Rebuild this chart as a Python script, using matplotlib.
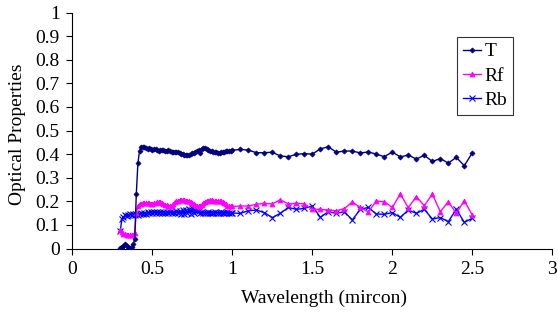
import matplotlib
matplotlib.use("Agg")
import matplotlib.pyplot as plt

plt.rcParams['font.family'] = ['Liberation Serif', 'DejaVu Serif']

wl_dense = [0.30, 0.31, 0.32, 0.33, 0.34, 0.35, 0.36, 0.37, 0.38, 0.39,
            0.40, 0.41, 0.42, 0.43, 0.44, 0.45, 0.46, 0.47, 0.48, 0.49,
            0.50, 0.51, 0.52, 0.53, 0.54, 0.55, 0.56, 0.57, 0.58, 0.59,
            0.60, 0.61, 0.62, 0.63, 0.64, 0.65, 0.66, 0.67, 0.68, 0.69,
            0.70, 0.71, 0.72, 0.73, 0.74, 0.75, 0.76, 0.77, 0.78, 0.79,
            0.80, 0.81, 0.82, 0.83, 0.84, 0.85, 0.86, 0.87, 0.88, 0.89,
            0.90, 0.91, 0.92, 0.93, 0.94, 0.95, 0.96, 0.97, 0.98, 0.99,
            1.00]
wl_sparse = [1.05, 1.10, 1.15, 1.20, 1.25, 1.30, 1.35, 1.40, 1.45, 1.50,
             1.55, 1.60, 1.65, 1.70, 1.75, 1.80, 1.85, 1.90, 1.95, 2.00,
             2.05, 2.10, 2.15, 2.20, 2.25, 2.30, 2.35, 2.40, 2.45, 2.50]

T_dense = [0.003, 0.005, 0.012, 0.017, 0.010, 0.006, 0.003, 0.006, 0.017, 0.040,
           0.230, 0.362, 0.412, 0.428, 0.432, 0.428, 0.425, 0.423, 0.425, 0.422,
           0.418, 0.420, 0.423, 0.419, 0.415, 0.417, 0.419, 0.416, 0.412, 0.414,
           0.416, 0.413, 0.410, 0.408, 0.409, 0.410, 0.408, 0.404, 0.401, 0.399,
           0.398, 0.397, 0.397, 0.398, 0.400, 0.403, 0.406, 0.410, 0.414, 0.418,
           0.404, 0.420, 0.426, 0.424, 0.420, 0.418, 0.415, 0.412, 0.410, 0.408,
           0.407, 0.406, 0.406, 0.407, 0.409, 0.411, 0.412, 0.413, 0.415, 0.414,
           0.416]
T_sparse = [0.420, 0.417, 0.406, 0.406, 0.408, 0.392, 0.389, 0.399, 0.402, 0.400,
            0.422, 0.431, 0.408, 0.413, 0.413, 0.405, 0.409, 0.400, 0.389, 0.409,
            0.388, 0.396, 0.379, 0.395, 0.369, 0.381, 0.362, 0.386, 0.351, 0.405]

Rf_dense = [0.080, 0.068, 0.062, 0.060, 0.058, 0.057, 0.056, 0.056, 0.058, 0.065,
            0.150, 0.182, 0.188, 0.190, 0.192, 0.192, 0.193, 0.192, 0.191, 0.190,
            0.190, 0.191, 0.193, 0.195, 0.196, 0.195, 0.193, 0.190, 0.186, 0.183,
            0.180, 0.179, 0.182, 0.189, 0.196, 0.200, 0.203, 0.205, 0.205, 0.204,
            0.204, 0.203, 0.203, 0.201, 0.198, 0.194, 0.188, 0.183, 0.179, 0.178,
            0.180, 0.186, 0.193, 0.198, 0.201, 0.203, 0.204, 0.204, 0.203, 0.203,
            0.202, 0.202, 0.201, 0.200, 0.198, 0.193, 0.187, 0.182, 0.179, 0.178,
            0.178]
Rf_sparse = [0.180, 0.180, 0.187, 0.191, 0.189, 0.206, 0.189, 0.191, 0.189, 0.166,
             0.166, 0.163, 0.160, 0.169, 0.197, 0.174, 0.155, 0.201, 0.198, 0.174,
             0.231, 0.173, 0.220, 0.181, 0.231, 0.156, 0.198, 0.149, 0.203, 0.142]

Rb_dense = [0.075, 0.125, 0.135, 0.140, 0.138, 0.142, 0.145, 0.140, 0.148, 0.143,
            0.146, 0.142, 0.148, 0.150, 0.146, 0.152, 0.148, 0.153, 0.150, 0.155,
            0.150, 0.154, 0.149, 0.155, 0.152, 0.156, 0.151, 0.155, 0.150, 0.154,
            0.149, 0.155, 0.151, 0.156, 0.152, 0.158, 0.150, 0.160, 0.148, 0.162,
            0.147, 0.165, 0.150, 0.168, 0.148, 0.170, 0.152, 0.165, 0.158, 0.160,
            0.150, 0.153, 0.151, 0.152, 0.150, 0.153, 0.151, 0.152, 0.150, 0.153,
            0.151, 0.152, 0.150, 0.153, 0.151, 0.152, 0.150, 0.153, 0.151, 0.152,
            0.150]
Rb_sparse = [0.149, 0.160, 0.163, 0.152, 0.131, 0.149, 0.174, 0.166, 0.170, 0.180,
             0.132, 0.156, 0.149, 0.156, 0.121, 0.166, 0.174, 0.146, 0.145, 0.152,
             0.132, 0.163, 0.149, 0.166, 0.125, 0.131, 0.114, 0.166, 0.111, 0.128]

x_ticks = [0, 0.5, 1, 1.5, 2, 2.5, 3]
x_tick_labels = ['0', '0.5', '1', '1.5', '2', '2.5', '3']
y_ticks = [0, 0.1, 0.2, 0.3, 0.4, 0.5, 0.6, 0.7, 0.8, 0.9, 1]
y_tick_labels = ['0', '0.1', '0.2', '0.3', '0.4', '0.5', '0.6', '0.7', '0.8', '0.9', '1']

wl = wl_dense + wl_sparse
T = T_dense + T_sparse
Rf = Rf_dense + Rf_sparse
Rb = Rb_dense + Rb_sparse

fig = plt.figure(figsize=(5.58, 3.24), dpi=100)
ax = fig.add_axes([72.3 / 558, (324 - 248.5) / 324, 480 / 558, 236 / 324])

ax.plot(wl, Rf, color='#FF00FF', lw=1.0, marker='^', ms=3.5, mew=0.6, label='Rf', zorder=3)
ax.plot(wl, Rb, color='#0000FF', lw=1.0, marker='x', ms=4.5, mew=0.8, label='Rb', zorder=2)
ax.plot(wl, T, color='#000080', lw=1.0, marker='D', ms=2.6, mew=0.5, label='T', zorder=4)

ax.set_xlim(0, 3)
ax.set_ylim(0, 1)
ax.set_xticks(x_ticks)
ax.set_xticklabels(x_tick_labels)
ax.set_yticks(y_ticks)
ax.set_yticklabels(y_tick_labels)
ax.tick_params(direction='out', length=4.5, width=0.8, labelsize=14, pad=4.5, colors='black')
for s in ['top', 'right']:
    ax.spines[s].set_visible(False)
for s in ['left', 'bottom']:
    ax.spines[s].set_linewidth(0.8)

ax.set_xlabel('Wavelength (mircon)', fontsize=14)
ax.set_ylabel('Optical Properties', fontsize=14)
ax.xaxis.set_label_coords(0.525, (248.5 - 290) / 236)
ax.yaxis.set_label_coords((26 - 72.3) / 480, 0.483)

handles, labels = ax.get_legend_handles_labels()
order = [2, 0, 1]
leg = ax.legend([handles[i] for i in order], [labels[i] for i in order],
                loc='upper left', bbox_to_anchor=((457 - 72.3) / 480, (248.5 - 37) / 236),
                fontsize=14, frameon=True, fancybox=False, handlelength=0.95,
                handletextpad=0.15, labelspacing=0.35, borderpad=0.3, borderaxespad=0)
leg.get_frame().set_edgecolor('black')
leg.get_frame().set_linewidth(0.8)

fig.savefig('out.png', dpi=100)
